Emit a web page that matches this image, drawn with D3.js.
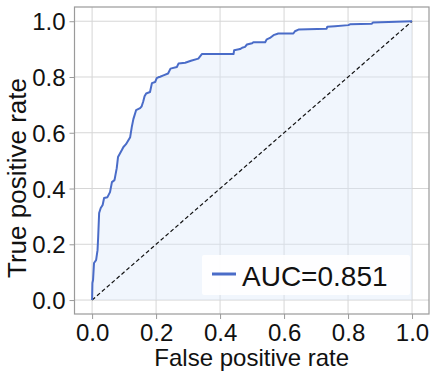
<!DOCTYPE html>
<html>
<head>
<meta charset="utf-8">
<script src="https://d3js.org/d3.v7.min.js"></script>
<style>
  body { margin: 0; background: #fff; }
  svg text { font-family: "Liberation Sans", Arial, sans-serif; fill: #111; }
  .grid line { stroke: #d6d6d6; stroke-width: 1; }
  .axis path { display: none; }
  .axis line { stroke: #9a9a9a; }
</style>
</head>
<body>
<div id="chart"></div>
<script>
// ROC curve
var fpr = [0, 0.001, 0.003, 0.006, 0.0125, 0.017, 0.019, 0.022, 0.027, 0.033, 0.0375, 0.048, 0.056, 0.062,
  0.070, 0.077, 0.081, 0.093, 0.098, 0.106, 0.119, 0.124, 0.129, 0.1375, 0.150, 0.155, 0.160, 0.164,
  0.169, 0.181, 0.187, 0.197, 0.202, 0.207, 0.2125, 0.223, 0.2375, 0.245, 0.265, 0.270, 0.291, 0.309,
  0.332, 0.343, 0.442, 0.444, 0.4625, 0.469, 0.478, 0.484, 0.500, 0.504, 0.541, 0.546, 0.556, 0.567,
  0.582, 0.629, 0.634, 0.645, 0.733, 0.735, 0.759, 0.801, 0.806, 0.874, 0.878, 1.0];
var tpr = [0, 0.061, 0.072, 0.133, 0.143, 0.179, 0.226, 0.312, 0.330, 0.341, 0.366, 0.369, 0.387, 0.423,
  0.430, 0.473, 0.513, 0.538, 0.549, 0.559, 0.584, 0.620, 0.649, 0.681, 0.688, 0.695, 0.713, 0.731,
  0.741, 0.746, 0.778, 0.782, 0.796, 0.799, 0.801, 0.806, 0.8125, 0.830, 0.836, 0.848, 0.851, 0.858,
  0.866, 0.882, 0.882, 0.896, 0.900, 0.905, 0.908, 0.9165, 0.921, 0.925, 0.925, 0.935, 0.940, 0.950,
  0.956, 0.956, 0.964, 0.970, 0.973, 0.980, 0.982, 0.986, 0.989, 0.991, 0.995, 1.0];
var ticks = [0, 0.2, 0.4, 0.6, 0.8, 1.0];
var legendLabel = "AUC=0.851";

var rocData = fpr.map(function (d, i) { return { fpr: d, tpr: tpr[i] }; });

var width = 445, height = 376;
var frame = { left: 74.5, top: 7, right: 429, bottom: 314 };

var svg = d3.select("#chart").append("svg")
    .attr("width", width)
    .attr("height", height);

var x = d3.scaleLinear().domain([-0.055, 1.053]).range([frame.left, frame.right]);
var y = d3.scaleLinear().domain([-0.05, 1.051]).range([frame.bottom, frame.top]);

// gridlines
var grid = svg.append("g").attr("class", "grid");
grid.selectAll("line.v").data(ticks).enter().append("line")
    .attr("x1", function (d) { return x(d); }).attr("x2", function (d) { return x(d); })
    .attr("y1", frame.top).attr("y2", frame.bottom);
grid.selectAll("line.h").data(ticks).enter().append("line")
    .attr("y1", function (d) { return y(d); }).attr("y2", function (d) { return y(d); })
    .attr("x1", frame.left).attr("x2", frame.right);

// filled area under the curve
var area = d3.area()
    .x(function (d) { return x(d.fpr); })
    .y0(y(0))
    .y1(function (d) { return y(d.tpr); });
svg.append("path")
    .attr("d", area(rocData))
    .attr("fill", "#dbe9fa")
    .attr("fill-opacity", 0.4);

// chance diagonal
svg.append("line")
    .attr("x1", x(0)).attr("y1", y(0))
    .attr("x2", x(1)).attr("y2", y(1))
    .attr("stroke", "#111")
    .attr("stroke-width", 1.2)
    .attr("stroke-dasharray", "4,2.5");

// roc line
var line = d3.line()
    .x(function (d) { return x(d.fpr); })
    .y(function (d) { return y(d.tpr); });
svg.append("path")
    .attr("d", line(rocData))
    .attr("fill", "none")
    .attr("stroke", "#4a6cc8")
    .attr("stroke-width", 2)
    .attr("stroke-linejoin", "round");

// frame
svg.append("rect")
    .attr("x", frame.left).attr("y", frame.top)
    .attr("width", frame.right - frame.left)
    .attr("height", frame.bottom - frame.top)
    .attr("fill", "none")
    .attr("stroke", "#9a9a9a")
    .attr("stroke-width", 1.2);

// axes
var fmt = d3.format(".1f");
var xAxis = svg.append("g").attr("class", "axis")
    .attr("transform", "translate(0," + frame.bottom + ")")
    .call(d3.axisBottom(x).tickValues(ticks).tickFormat(fmt).tickSize(5).tickPadding(4));
xAxis.selectAll("text").style("font-size", "24px").attr("dy", "0.75em");

var yAxis = svg.append("g").attr("class", "axis")
    .attr("transform", "translate(" + frame.left + ",0)")
    .call(d3.axisLeft(y).tickValues(ticks).tickFormat(fmt).tickSize(5).tickPadding(4));
yAxis.selectAll("text").style("font-size", "24px").attr("dy", "0.36em");

svg.selectAll(".axis text").style("fill", "#111");

// axis titles
svg.append("text")
    .attr("x", (frame.left + frame.right) / 2)
    .attr("y", 366)
    .attr("text-anchor", "middle")
    .style("font-size", "24px")
    .text("False positive rate");

svg.append("text")
    .attr("transform", "translate(26," + 178 + ") rotate(-90)")
    .attr("text-anchor", "middle")
    .style("font-size", "26px")
    .text("True positive rate");

// legend
var legend = svg.append("g").attr("transform", "translate(202,255)");
legend.append("rect")
    .attr("width", 208).attr("height", 40)
    .attr("rx", 2)
    .attr("fill", "#fff")
    .attr("fill-opacity", 0.9);
legend.append("line")
    .attr("x1", 10).attr("x2", 34)
    .attr("y1", 19).attr("y2", 19)
    .attr("stroke", "#4a6cc8")
    .attr("stroke-width", 3);
legend.append("text")
    .attr("x", 40).attr("y", 31)
    .style("font-size", "28px")
    .text(legendLabel);
</script>
</body>
</html>
